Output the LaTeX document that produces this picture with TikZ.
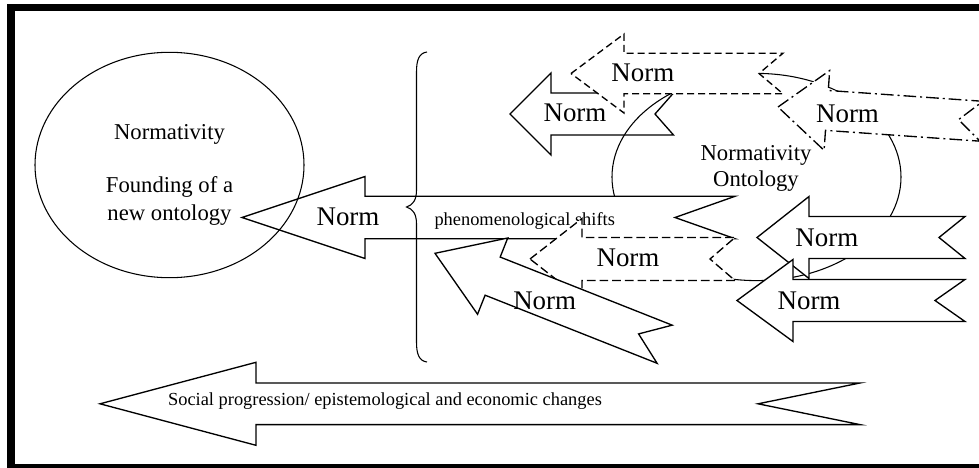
\documentclass[tikz,border=0pt]{standalone}
\usepackage{fontspec}
\setmainfont{Liberation Serif}
\tikzset{
  pics/fatarrow/.style args={#1/#2/#3/#4/#5}{code={
    \path[pic actions] (0,0) -- (#1,-#2) -- (#1,-#3) -- (#4,-#3) -- ({#4-#5},0) -- (#4,#3) -- (#1,#3) -- (#1,#2) -- cycle;}},
  arr/.style={draw=black, fill=white, line width=1pt, line join=miter},
  dsh/.style={dash pattern=on 5.25pt off 3pt},
  dsh2/.style={dash pattern=on 6.5pt off 3pt},
  dshdot/.style={dash pattern=on 9.5pt off 3pt on 1.5pt off 3pt},
  curve/.style={draw=black, line width=0.8pt},
  normlbl/.style={anchor=base, inner sep=0pt, font=\fontsize{20.2}{24}\selectfont},
  midlbl/.style={anchor=base, inner sep=0pt, font=\fontsize{17}{20}\selectfont},
  smalllbl/.style={anchor=base, inner sep=0pt, font=\fontsize{13.8}{16}\selectfont},
}
\begin{document}
\begin{tikzpicture}[x=0.75pt,y=-0.75pt]
\useasboundingbox (0,0) rectangle (979,468);
\clip (0,0) rectangle (979,468);
% small solid top arrow
\pic[arr] at (510,114) {fatarrow=41/41/21/163.5/18.5};
\node[normlbl] (s1) at (575,121.7) {Norm};
% right ellipse
\draw[curve] (756.5,177) ellipse [x radius=144.5, y radius=103.6];
% dashed top arrow
\pic[arr,dsh] at (571,73.5) {fatarrow=53/39.5/20.3/212/24};
\node[normlbl] (d1) at (642.8,81.7) {Norm};
% dash-dot arrow
\pic[arr,dshdot,rotate=-4] at (778,107) {fatarrow=49/40/20/204/23};
\node[normlbl] (dd) at (847.5,122.3) {Norm};
% ontology text
\node[midlbl] (nt1) at (756,160) {Normativity};
\node[midlbl] (nt2) at (756,186) {Ontology};
% main arrow
\pic[arr] at (242,217.5) {fatarrow=123/41/21.2/493/60};
\node[normlbl] (m) at (348,225.7) {Norm};
\node[smalllbl] (ph) at (524.7,225) {phenomenological shifts};
% left ellipse
\draw[curve] (169.5,165) ellipse [x radius=134.5, y radius=112.7];
\node[midlbl] (e1) at (169.5,139.3) {Normativity};
\node[midlbl] (e2) at (169.5,192.3) {Founding of a};
\node[midlbl] (e3) at (169.5,220) {new ontology};
% brace
\draw[curve] (427,52) .. controls (419,53) and (416.5,60) .. (416.5,72) -- (416.5,190)
  .. controls (416.5,200) and (413,205) .. (406.5,207)
  .. controls (413,209) and (416.5,214) .. (416.5,224) -- (416.5,342)
  .. controls (416.5,354) and (419,361) .. (427,362);
% dashed middle arrow
\pic[arr,dsh2] at (530,259) {fatarrow=52/40.5/21.5/205/25};
\node[normlbl] (d2) at (628,266.7) {Norm};
% tilted arrow
\pic[arr,rotate=-21.6] at (435,253.3) {fatarrow=62/41/20.5/247/28};
\node[normlbl] (t) at (544.7,309) {Norm};
% right arrows
\pic[arr] at (757,237.5) {fatarrow=52/41/21/208/26};
\node[normlbl] (r1) at (826.8,246.7) {Norm};
\pic[arr] at (737,300.5) {fatarrow=56/41/21/228/30};
\node[normlbl] (r2) at (809,309) {Norm};
% bottom arrow
\pic[arr] at (100,403.8) {fatarrow=156/41.5/20.8/760/102};
\node[smalllbl] (b) at (385,405) {Social progression/ epistemological and economic changes};
% frame
\draw[line width=5.5pt] (11,7.5) rectangle (1000,467.5);
\end{tikzpicture}
\end{document}
